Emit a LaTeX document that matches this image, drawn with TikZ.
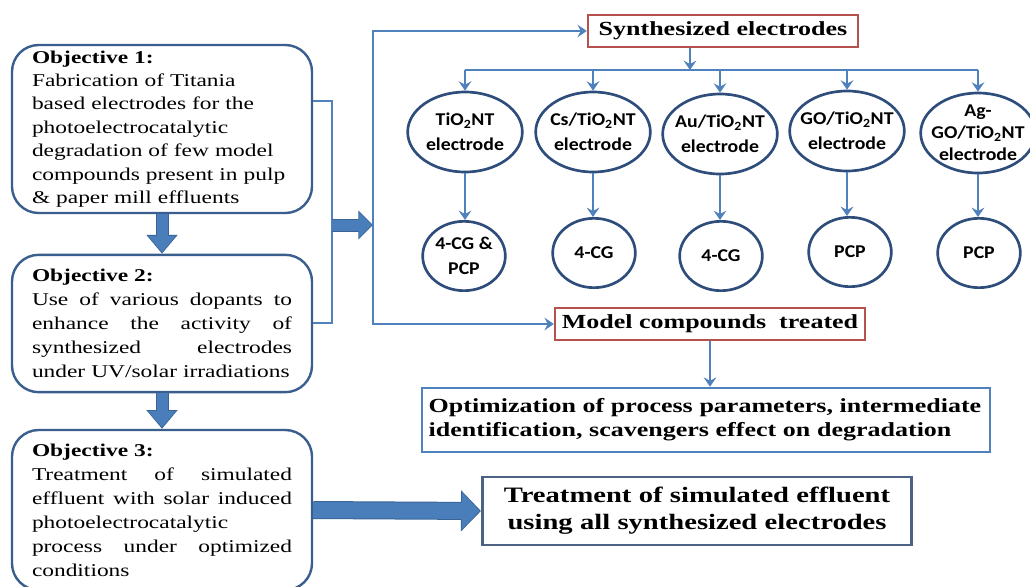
\documentclass[tikz,border=0pt]{standalone}
\usepackage{fontspec}
\setmainfont{Liberation Serif}[FakeStretch=1.3]
\newfontfamily\ellfont{Carlito}[FakeStretch=1.1]
\usetikzlibrary{arrows.meta,shapes.geometric,positioning}
\definecolor{flowblue}{HTML}{4F81BD}
\definecolor{fatfill}{HTML}{4A7EBB}
\definecolor{fatline}{HTML}{3A6496}
\definecolor{objblue}{HTML}{3A5F8F}
\definecolor{ellblue}{HTML}{2E4D7B}
\definecolor{boxred}{HTML}{B5524E}
\definecolor{slateblue}{HTML}{4E6383}
\newcommand{\jline}[1]{\leavevmode\hbox to 195pt{#1}}
\tikzset{
  flow/.style={draw=flowblue, line width=1.9pt, -{Stealth[length=7pt,width=9.5pt,inset=2.5pt]}},
  link/.style={draw=flowblue, line width=1.9pt},
  fatedge/.style={draw=fatline, line width=9.75pt, -{Triangle[width=22.5pt,length=14pt]}},
  fatinner/.style={draw=fatfill, line width=8.25pt, shorten >=1.1pt, -{Triangle[width=19.9pt,length=12.2pt]}},
  objective/.style={draw=objblue, line width=1.8pt, rounded corners=20pt, minimum width=225pt,
    text width=195pt, inner xsep=0pt, align=left, font=\fontsize{13.5}{17.5}\selectfont},
  electrode/.style={ellipse, draw=ellblue, line width=2pt, minimum width=86pt, minimum height=60pt,
    inner xsep=-12pt, inner ysep=-8pt, align=center, font=\ellfont\bfseries\fontsize{13.5}{18.5}\selectfont},
  pollutant/.style={electrode, minimum width=62pt, minimum height=52pt},
  stagebox/.style={draw=boxred, line width=1.8pt, minimum height=24pt, font=\bfseries\fontsize{15}{18}\selectfont},
}
\begin{document}
\begin{tikzpicture}[x=0.75pt,y=-0.75pt]
\clip (0,0) rectangle (1030,586);
\fill[white] (0,0) rectangle (1030,586);

% objectives
\node[objective, minimum height=126pt] (obj1) at (162,129) {\textbf{Objective 1:}\\
Fabrication of Titania\\
based electrodes for the\\
photoelectrocatalytic\\
degradation of few model\\
compounds present in pulp\\
\& paper mill effluents};
\node[objective, minimum height=103pt, font=\fontsize{13.5}{18}\selectfont] (obj2) at (162,323.5) {\textbf{Objective 2:}\\
\jline{Use\hfill of\hfill various\hfill dopants\hfill to}\\
\jline{enhance\hfill the\hfill activity\hfill of}\\
\jline{synthesized\hfill electrodes}\\
under UV/solar irradiations};
\node[objective, minimum height=120pt, font=\fontsize{13.5}{18}\selectfont] (obj3) at (162,510) {\textbf{Objective 3:}\\
\jline{Treatment\hfill of\hfill simulated}\\
\jline{effluent\hfill with\hfill solar\hfill induced}\\
photoelectrocatalytic\\
\jline{process\hfill under\hfill optimized}\\
conditions};

\draw[fatedge] (obj1.south) -- (obj2.north);
\draw[fatinner] (obj1.south) -- (obj2.north);
\draw[fatedge] (obj2.south) -- (obj3.north);
\draw[fatinner] (obj2.south) -- (obj3.north);

% stage boxes
\node[stagebox, minimum width=202.5pt] (synth) at (723,31) {Synthesized electrodes};
\node[stagebox, minimum width=232.5pt] (model) at (710,324) {Model compounds~ treated};
\node[draw=flowblue, line width=1.9pt, minimum width=426pt, minimum height=48pt, text width=416pt,
  align=left, font=\bfseries\fontsize{15}{18}\selectfont] (optim) at (706,420)
  {Optimization of process parameters, intermediate\\identification, scavengers effect on degradation};
\node[draw=slateblue, line width=2pt, minimum width=322pt, minimum height=51pt, text width=300pt,
  align=center, font=\bfseries\fontsize{16.5}{20}\selectfont] (treat) at (697,511)
  {Treatment of simulated effluent\\using all synthesized electrodes};

% bracket joining objectives 1 and 2
\coordinate (b1) at (332,101);
\coordinate (b2) at (332,323);
\coordinate (brk) at (332,225);
\coordinate (jt) at (373,225);
\draw[link] (obj1.east |- b1) -- (b1) -- (b2) -- (obj2.east |- b2);
\draw[fatedge, -{Triangle[width=21pt,length=11pt]}] (brk) -- (jt);
\draw[fatinner, -{Triangle[width=18.4pt,length=9.4pt]}] (brk) -- (jt);
\draw[flow] (jt) |- (synth.west);
\draw[flow] (jt) |- (model.west);
\draw[fatedge, line width=13.5pt, -{Triangle[width=30pt,length=15pt]}] (obj3.east) -- (treat.west);
\draw[fatinner, line width=12pt, -{Triangle[width=27.4pt,length=13.2pt]}] (obj3.east) -- (treat.west);
\draw[flow] (model.south) -- (model.south |- optim.north);

% electrodes
\node[electrode] (e1) at (465,132) {TiO\textsubscript{2}NT\\electrode};
\node[electrode] (e2) at (593,132) {Cs/TiO\textsubscript{2}NT\\electrode};
\node[electrode] (e3) at (720,134) {Au/TiO\textsubscript{2}NT\\electrode};
\node[electrode] (e4) at (847,131) {GO/TiO\textsubscript{2}NT\\electrode};
\node[electrode, font=\ellfont\bfseries\fontsize{13.5}{16.5}\selectfont] (e5) at (978,133) {Ag-\\GO/TiO\textsubscript{2}NT\\electrode};

% compounds
\node[pollutant] (c1) at (464,256) {4-CG \&\\PCP};
\node[pollutant] (c2) at (594,253) {4-CG};
\node[pollutant] (c3) at (721,256) {4-CG};
\node[pollutant] (c4) at (850,252) {PCP};
\node[pollutant] (c5) at (979,253) {PCP};

\coordinate (bus) at (690,70);
\draw[flow] (synth.south -| bus) -- (bus);
\draw[link] (e1.north |- bus) -- (e5.north |- bus);
\foreach \i in {1,...,5}{
  \draw[flow] (e\i.north |- bus) -- (e\i.north);
  \draw[flow] (e\i.south) -- (e\i.south |- c\i.north);
}
\end{tikzpicture}
\end{document}
